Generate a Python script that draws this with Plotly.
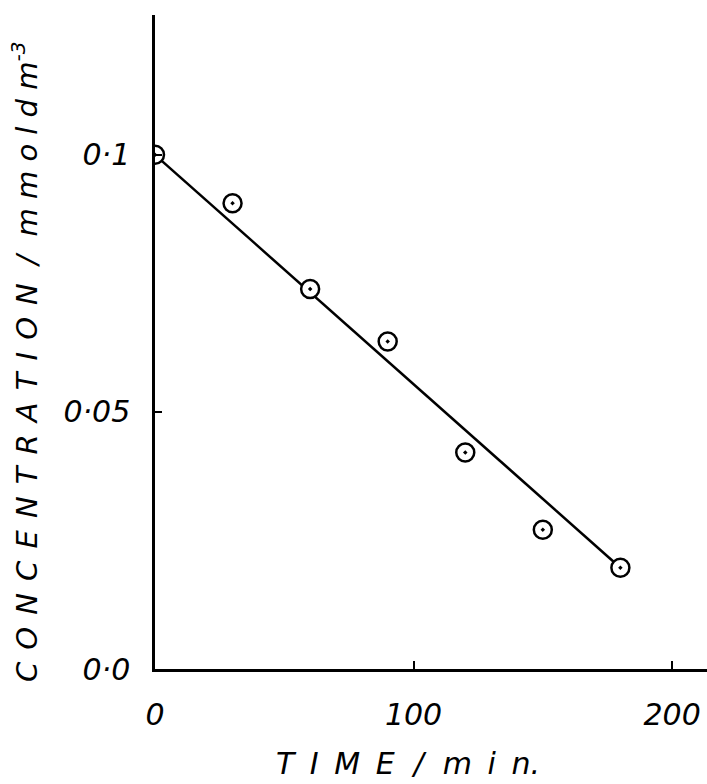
import plotly.graph_objects as go

time_min = [0, 30, 60, 90, 120, 150, 180]
concentration = [0.1, 0.0906, 0.0739, 0.0637, 0.0421, 0.0271, 0.0197]
fit_time = [0, 180]
fit_conc = [0.1, 0.0197]

x_ticks = [0, 100, 200]
x_ticktext = ["0", "100", "200"]
y_ticks = [0, 0.05, 0.1]
y_ticktext = ["0·0", "0·05", "0·1"]

fig = go.Figure()
fig.add_trace(go.Scatter(x=fit_time, y=fit_conc, mode="lines",
                         line=dict(color="black", width=2.5), showlegend=False))
fig.add_trace(go.Scatter(x=time_min, y=concentration, mode="markers",
                         marker=dict(symbol="circle", size=18, color="white",
                                     line=dict(width=0)), showlegend=False))
fig.add_trace(go.Scatter(x=time_min, y=concentration, mode="markers",
                         marker=dict(symbol="circle-open-dot", size=18, color="black",
                                     line=dict(width=2.5, color="black")), showlegend=False))

tickfont = dict(family="DejaVu Sans", size=30, color="black", style="italic")

L, T, B, R = 155, 15, 115, 0
W, H = 707, 784
pw, ph = W - L - R, H - T - B

def spaced(s, gap):
    return gap.join(list(s))

x_title = (spaced("TIME", "\u00a0\u2009") + "\u00a0\u00a0/\u00a0\u00a0"
           + spaced("min", "\u00a0\u2009") + ".")
y_title = (spaced("CONCENTRATION", "\u00a0\u200a") + "\u00a0\u00a0/\u00a0\u00a0"
           + spaced("mmoldm", "\u00a0") + "<sup>-3</sup>")

fig.update_layout(
    width=W, height=H,
    margin=dict(l=L, r=R, t=T, b=B, autoexpand=False),
    paper_bgcolor="white", plot_bgcolor="white",
    xaxis=dict(range=[0, 213.5], showgrid=False, zeroline=False, showline=True,
               linecolor="black", linewidth=2.5, ticks="inside", ticklen=8,
               tickwidth=2, tickcolor="black", tickvals=x_ticks, ticktext=x_ticktext,
               tickfont=tickfont, ticklabelstandoff=17, automargin=False),
    yaxis=dict(range=[0, 0.1272], showgrid=False, zeroline=False, showline=True,
               linecolor="black", linewidth=2.5, ticks="inside", ticklen=7,
               tickwidth=2, tickcolor="black", tickvals=y_ticks, ticktext=y_ticktext,
               tickfont=tickfont, ticklabelstandoff=16, automargin=False),
    annotations=[
        dict(text=x_title, xref="paper", yref="paper",
             x=(408 - L) / pw, y=-(763 - (H - B)) / ph, showarrow=False,
             font=dict(family="DejaVu Sans", size=30, color="black", style="italic"),
             xanchor="center", yanchor="middle"),
        dict(text=y_title, xref="paper", yref="paper",
             x=-(L - 25) / pw, y=((H - B) - 362) / ph, showarrow=False, textangle=-90,
             font=dict(family="DejaVu Sans", size=29, color="black", style="italic"),
             xanchor="center", yanchor="middle"),
    ],
)

fig.write_html("out.html", config={"displayModeBar": False},
               post_script="document.body.style.margin='0px';")
